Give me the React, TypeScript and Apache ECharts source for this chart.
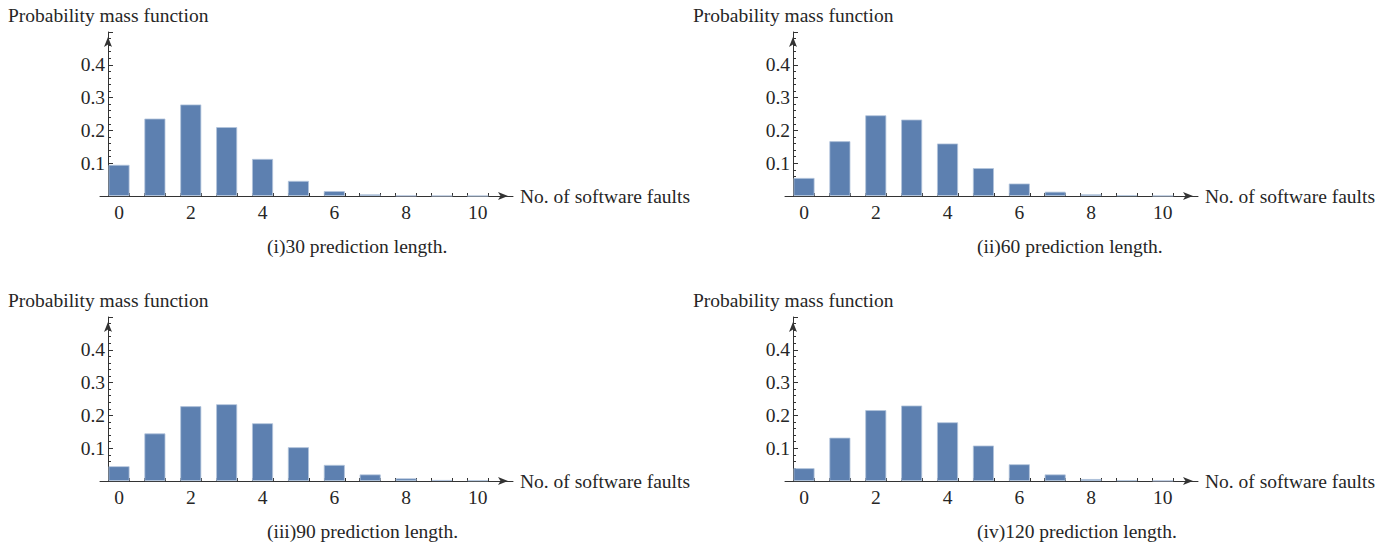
import React, { useEffect, useRef } from "react";
import * as echarts from "echarts";

// Number of software faults on the horizontal axis
const faultCounts = [0, 1, 2, 3, 4, 5, 6, 7, 8, 9, 10];

// Probability mass of each fault count, for four prediction lengths
const pmf30 = [0.095, 0.236, 0.279, 0.21, 0.113, 0.046, 0.015, 0.005, 0.001, 0.0005, 0.0002];
const pmf60 = [0.055, 0.167, 0.246, 0.233, 0.16, 0.085, 0.038, 0.013, 0.005, 0.002, 0.0006];
const pmf90 = [0.045, 0.145, 0.228, 0.234, 0.176, 0.103, 0.049, 0.02, 0.008, 0.003, 0.002];
const pmf120 = [0.039, 0.132, 0.216, 0.23, 0.179, 0.108, 0.051, 0.02, 0.006, 0.002, 0.001];

const seriesValues = [pmf30, pmf60, pmf90, pmf120];
const panelCaptions = [
  "(i)30 prediction length.",
  "(ii)60 prediction length.",
  "(iii)90 prediction length.",
  "(iv)120 prediction length.",
];

const xTickLabels = [0, 2, 4, 6, 8, 10];
const yTickLabels = [0.1, 0.2, 0.3, 0.4];

const yAxisTitle = "Probability mass function";
const xAxisTitle = "No. of software faults";

// Layout
const FONT = "'Liberation Serif', 'Times New Roman', 'DejaVu Serif', serif";
const FONT_SIZE = 19.5;
const TEXT_COLOR = "#262626";
const AXIS_COLOR = "#333333";
const BAR_COLOR = "#5d80b0";
const BAR_EDGE = "#b3c4dc";

const X_MIN = -0.53;
const X_MAX = 10.98;
const GRID_LEFT = 100;
const GRID_WIDTH = 413;
const GRID_TOP = 32;
const GRID_HEIGHT = 164;
const Y_MAX = 0.5;
const BAR_WIDTH = 21;
const Y_AXIS_SHIFT = 8; // y axis sits a little right of the grid's left edge

const panelOffsets = [
  [0, 0],
  [685, 0],
  [0, 285],
  [685, 285],
];
const captionLeft = [267, 977, 267, 977];

export default function App() {
  const ref = useRef<HTMLDivElement>(null);

  useEffect(() => {
    if (!ref.current) return;
    const chart = echarts.init(ref.current, null, { renderer: "svg" });

    const unitPx = GRID_WIDTH / (X_MAX - X_MIN);
    const halfBar = BAR_WIDTH / 2 / unitPx;
    const barEdges: number[] = [];
    faultCounts.forEach((k) => {
      barEdges.push(k - halfBar, k + halfBar);
    });

    const grids: any[] = [];
    const xAxes: any[] = [];
    const yAxes: any[] = [];
    const series: any[] = [];
    const graphics: any[] = [];

    panelOffsets.forEach(([dx, dy], i) => {
      grids.push({
        left: GRID_LEFT + dx,
        top: GRID_TOP + dy,
        width: GRID_WIDTH,
        height: GRID_HEIGHT,
      });
      xAxes.push({
        gridIndex: i,
        type: "value",
        min: X_MIN,
        max: X_MAX,
        name: xAxisTitle,
        nameLocation: "end",
        nameGap: 7,
        nameTextStyle: {
          fontFamily: FONT,
          fontSize: FONT_SIZE,
          color: TEXT_COLOR,
          verticalAlign: "middle",
        },
        axisLine: {
          onZero: false,
          symbol: ["none", "arrow"],
          symbolSize: [6, 10],
          symbolOffset: [0, -5],
          lineStyle: { color: AXIS_COLOR, width: 1 },
        },
        axisTick: {
          show: true,
          inside: true,
          length: 3,
          customValues: barEdges,
          lineStyle: { color: AXIS_COLOR, width: 1 },
        },
        axisLabel: {
          customValues: xTickLabels,
          margin: 6,
          fontFamily: FONT,
          fontSize: FONT_SIZE,
          color: TEXT_COLOR,
        },
        splitLine: { show: false },
      });
      yAxes.push({
        gridIndex: i,
        type: "value",
        min: 0,
        max: Y_MAX,
        interval: 0.1,
        offset: -Y_AXIS_SHIFT,
        axisLine: {
          show: true,
          onZero: false,
          symbol: ["none", "arrow"],
          symbolSize: [6, 10],
          symbolOffset: [0, -5],
          lineStyle: { color: AXIS_COLOR, width: 1 },
        },
        axisTick: {
          show: true,
          inside: true,
          length: 5,
          lineStyle: { color: AXIS_COLOR, width: 1 },
        },
        minorTick: {
          show: true,
          splitNumber: 5,
          length: 3,
          lineStyle: { color: AXIS_COLOR, width: 1 },
        },
        axisLabel: {
          customValues: yTickLabels,
          margin: 3,
          fontFamily: FONT,
          fontSize: FONT_SIZE,
          color: TEXT_COLOR,
          formatter: (v: number) => v.toFixed(1),
        },
        splitLine: { show: false },
      });
      series.push({
        type: "bar",
        xAxisIndex: i,
        yAxisIndex: i,
        barWidth: BAR_WIDTH,
        itemStyle: {
          color: BAR_COLOR,
          borderColor: BAR_EDGE,
          borderWidth: 0.8,
        },
        z: 1,
        data: faultCounts.map((k, j) => [k, seriesValues[i][j]]),
      });
      graphics.push({
        type: "text",
        x: 8 + dx,
        y: 15 + dy,
        style: {
          text: yAxisTitle,
          fontFamily: FONT,
          fontSize: FONT_SIZE,
          fill: TEXT_COLOR,
          verticalAlign: "middle",
        },
      });
      graphics.push({
        type: "text",
        x: captionLeft[i],
        y: 246 + dy,
        style: {
          text: panelCaptions[i],
          fontFamily: FONT,
          fontSize: FONT_SIZE,
          fill: TEXT_COLOR,
          verticalAlign: "middle",
        },
      });
    });

    chart.setOption({
      animation: false,
      backgroundColor: "#ffffff",
      grid: grids,
      xAxis: xAxes,
      yAxis: yAxes,
      series,
      graphic: graphics,
    });

    return () => chart.dispose();
  }, []);

  return (
    <div
      ref={ref}
      style={{ position: "absolute", left: 0, top: 0, width: 1395, height: 545 }}
    />
  );
}
